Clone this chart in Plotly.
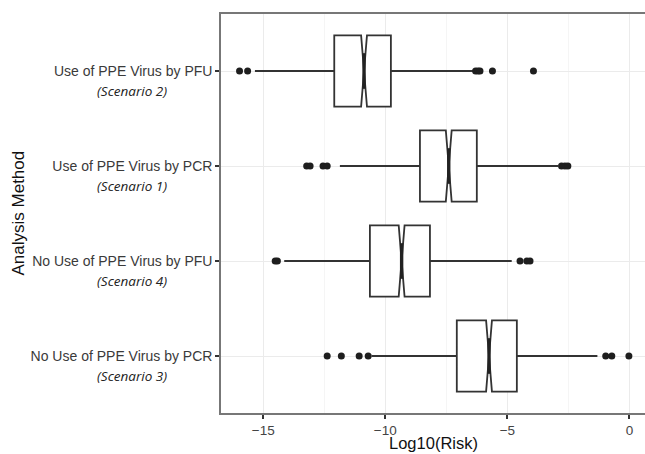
import plotly.graph_objects as go

# ---- data ----
methods = ["Use of PPE Virus by PFU", "Use of PPE Virus by PCR",
           "No Use of PPE Virus by PFU", "No Use of PPE Virus by PCR"]
scenarios = ["(Scenario 2)", "(Scenario 1)", "(Scenario 4)", "(Scenario 3)"]

q1 = [-12.09, -8.58, -10.63, -7.07]
median = [-10.87, -7.40, -9.33, -5.75]
q3 = [-9.77, -6.25, -8.17, -4.61]
lowerfence = [-15.34, -11.86, -14.14, -10.56]
upperfence = [-6.39, -2.92, -4.82, -1.31]
notchspan = [0.12, 0.12, 0.12, 0.12]

outliers = [
    [-15.97, -15.64, -6.30, -6.20, -6.12, -5.61, -3.93],
    [-13.22, -13.08, -12.55, -12.38, -2.78, -2.64, -2.52],
    [-14.51, -14.42, -4.48, -4.20, -4.07],
    [-12.38, -11.80, -11.07, -10.70, -0.97, -0.72, -0.02],
]

x_ticks = [-15, -10, -5, 0]

# ---- layout constants ----
W, H = 645, 454
ML, MR, MT, MB = 221, 0, 14, 41
n = len(methods)
pos = [n - i for i in range(n)]          # top row first
box_w = 0.75
notch_w = 0.5
dark = "#333333"

fig = go.Figure()

fig.add_trace(go.Box(
    y=pos, q1=q1, median=median, q3=q3,
    lowerfence=lowerfence, upperfence=upperfence,
    notchspan=notchspan, notched=True, notchwidth=notch_w,
    orientation="h", width=box_w, whiskerwidth=0,
    boxpoints=False,
    fillcolor="white", line=dict(color=dark, width=1.8),
    hoverinfo="skip", showlegend=False,
))

# thicker median segments (ggplot fatten)
mx, my = [], []
for p, m in zip(pos, median):
    half = box_w * notch_w / 2
    mx += [m, m, None]
    my += [p - half, p + half, None]
fig.add_trace(go.Scatter(x=mx, y=my, mode="lines",
                         line=dict(color="#222222", width=3.4),
                         hoverinfo="skip", showlegend=False))

# outliers
ox, oy = [], []
for p, vals in zip(pos, outliers):
    ox += vals
    oy += [p] * len(vals)
fig.add_trace(go.Scatter(x=ox, y=oy, mode="markers",
                         marker=dict(color="#1e1e1e", size=7),
                         hoverinfo="skip", showlegend=False))

# second-line scenario labels
for p, s in zip(pos, scenarios):
    fig.add_annotation(text="<i>" + s + "</i>", xref="paper", yref="y",
                       x=(131.5 - ML) / (W - ML - MR), y=p, yshift=-19.5,
                       xanchor="center", yanchor="middle", showarrow=False,
                       font=dict(family="Open Sans", size=13.5, color="#222222"))

# axis titles
fig.add_annotation(text="Analysis Method", xref="paper", yref="paper",
                   x=(18 - ML) / (W - ML - MR), y=0.5, textangle=-90,
                   xanchor="center", yanchor="middle", showarrow=False,
                   font=dict(family="Liberation Sans, Arial", size=17, color="#111111"))
fig.add_annotation(text="Log10(Risk)", xref="paper", yref="paper",
                   x=0.5, y=-(443 - (H - MB)) / (H - MT - MB),
                   xanchor="center", yanchor="middle", showarrow=False,
                   font=dict(family="Liberation Sans, Arial", size=16.5, color="#111111"))

fig.update_layout(
    width=W, height=H,
    margin=dict(l=ML, r=MR, t=MT, b=MB, pad=0),
    paper_bgcolor="white", plot_bgcolor="white",
    font=dict(family="Liberation Sans, Arial", color="#3a3a3a"),
    showlegend=False,
)
fig.update_xaxes(
    range=[-16.73, 0.64], tickvals=x_ticks,
    ticktext=["\u221215", "\u221210", "\u22125", "0"],
    ticks="outside", ticklen=4, tickwidth=2, tickcolor=dark,
    tickfont=dict(size=13.5, color="#444444"),
    showgrid=True, gridcolor="#EBEBEB", gridwidth=1,
    minor=dict(dtick=2.5, tick0=0, showgrid=True, gridcolor="#F5F5F5", gridwidth=1),
    showline=True, linecolor="#777777", linewidth=1.6, mirror=True,
    zeroline=False,
)
fig.update_yaxes(
    range=[0.4, n + 0.6], tickvals=pos, ticktext=methods,
    ticks="outside", ticklen=4, tickwidth=2, tickcolor=dark,
    tickfont=dict(size=14, color="#3a3a3a"),
    showgrid=True, gridcolor="#EBEBEB", gridwidth=1,
    showline=True, linecolor="#777777", linewidth=1.6, mirror=False,
    zeroline=False,
)

fig.write_html("out.html")
